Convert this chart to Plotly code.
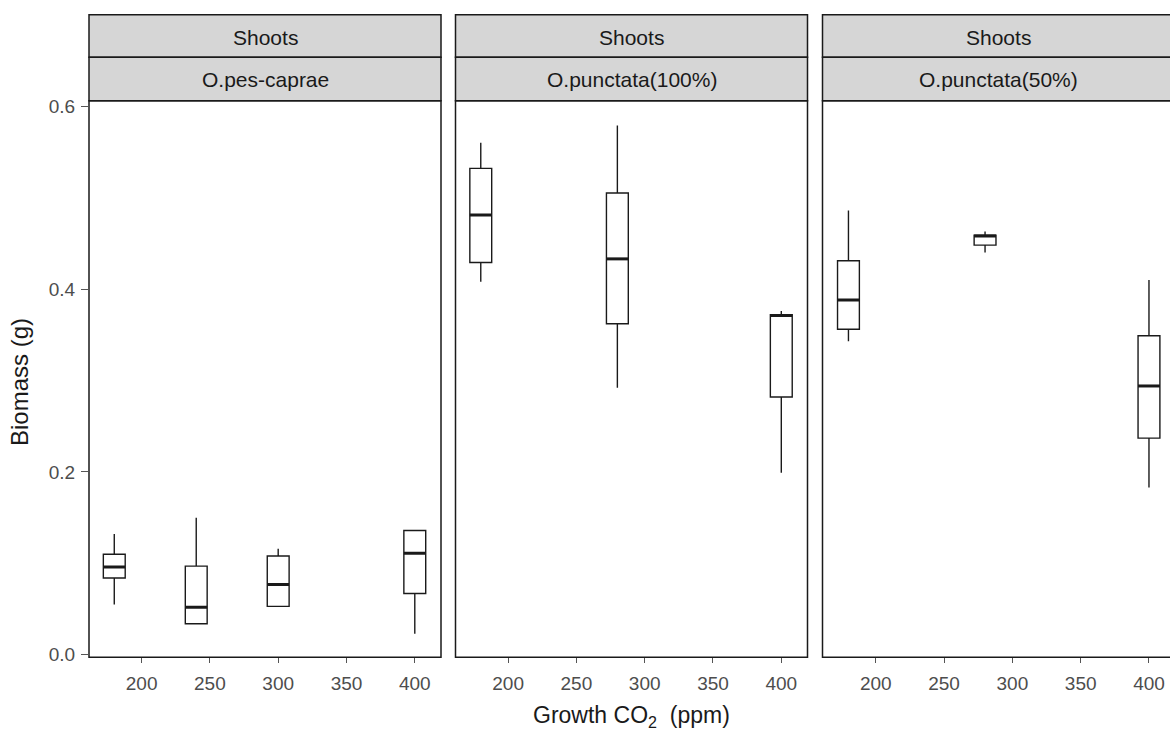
import plotly.graph_objects as go

# ---- data ----
panels = ["O.pes-caprae", "O.punctata(100%)", "O.punctata(50%)"]
tissue = "Shoots"

x_pes = [180, 240, 300, 400]
lo_pes = [0.055, 0.034, 0.053, 0.023]
q1_pes = [0.084, 0.034, 0.053, 0.067]
med_pes = [0.096, 0.052, 0.077, 0.111]
q3_pes = [0.110, 0.097, 0.108, 0.136]
hi_pes = [0.132, 0.150, 0.116, 0.136]

x_p100 = [180, 280, 400]
lo_p100 = [0.408, 0.292, 0.199]
q1_p100 = [0.429, 0.362, 0.282]
med_p100 = [0.481, 0.433, 0.371]
q3_p100 = [0.532, 0.505, 0.372]
hi_p100 = [0.560, 0.579, 0.376]

x_p50 = [180, 280, 400]
lo_p50 = [0.343, 0.440, 0.183]
q1_p50 = [0.356, 0.448, 0.237]
med_p50 = [0.388, 0.458, 0.294]
q3_p50 = [0.431, 0.459, 0.349]
hi_p50 = [0.486, 0.463, 0.410]

x_ticks = [200, 250, 300, 350, 400]
y_ticks = [0.0, 0.2, 0.4, 0.6]
y_ticklabels = ["0.0", "0.2", "0.4", "0.6"]

series = [
    (x_pes, lo_pes, q1_pes, med_pes, q3_pes, hi_pes),
    (x_p100, lo_p100, q1_p100, med_p100, q3_p100, hi_p100),
    (x_p50, lo_p50, q1_p50, med_p50, q3_p50, hi_p50),
]

# ---- layout geometry ----
W, H = 1170, 732
px = lambda v: v / W
cy = lambda v: (v - 3.73) / 0.983          # compensate observed vertical scaling
py = lambda v: (H - cy(v)) / H
domains = [(89, 441), (455.5, 807.5), (822.5, 1170)]
scale = 1.366  # px per x unit
top_px, bot_px = 99.5, 656.5
yrange = [-0.0027, 0.606]
BOX_W = 16

fig = go.Figure()
font_family = "Liberation Sans, Arial, sans-serif"

for i, (xs, lo, q1, med, q3, hi) in enumerate(series):
    xa = "x" if i == 0 else f"x{i+1}"
    ya = "y" if i == 0 else f"y{i+1}"
    fig.add_trace(go.Box(
        x=xs, q1=q1, median=med, q3=q3, lowerfence=lo, upperfence=hi,
        width=BOX_W, whiskerwidth=0, fillcolor="white",
        line=dict(color="#1a1a1a", width=1.4), boxpoints=False,
        showlegend=False, xaxis=xa, yaxis=ya, hoverinfo="skip",
    ))
    mx, my = [], []
    for xv, mv in zip(xs, med):
        mx += [xv - BOX_W / 2, xv + BOX_W / 2, None]
        my += [mv, mv, None]
    fig.add_trace(go.Scatter(
        x=mx, y=my, mode="lines", line=dict(color="#1a1a1a", width=3),
        showlegend=False, xaxis=xa, yaxis=ya, hoverinfo="skip",
    ))

shapes = []
annotations = []
for i, (l, r) in enumerate(domains):
    d = [px(l), min(px(r), 1.0)]
    width_px = r - l
    start = 161.5 if i < 2 else 161.0
    xr = [start, start + width_px / scale]
    key = "" if i == 0 else str(i + 1)
    fig.layout["xaxis" + key] = dict(
        domain=d, range=xr, tickmode="array", tickvals=x_ticks,
        ticks="outside", ticklen=5, tickwidth=1, tickcolor="#555555",
        showgrid=False, zeroline=False, showline=False,
        tickfont=dict(family=font_family, size=19, color="#4d4d4d"),
        anchor="y" + key, ticklabelstandoff=4,
    )
    fig.layout["yaxis" + key] = dict(
        domain=[py(bot_px), py(top_px)], range=yrange,
        tickmode="array", tickvals=y_ticks, ticktext=y_ticklabels,
        ticks="outside" if i == 0 else "", ticklen=7, tickwidth=1,
        tickcolor="#555555", showticklabels=(i == 0),
        showgrid=False, zeroline=False, showline=False,
        tickfont=dict(family=font_family, size=19, color="#4d4d4d"),
        anchor="x" + key, ticklabelstandoff=2,
    )
    rr = r + 4 if i == 2 else r
    # panel border
    shapes.append(dict(type="rect", xref="paper", yref="paper",
                       x0=px(l), x1=px(rr), y0=py(bot_px), y1=py(top_px),
                       line=dict(color="#1a1a1a", width=1.5), fillcolor="rgba(0,0,0,0)"))
    # strips
    for (t, b) in [(13.5, 56), (56, 99.5)]:
        shapes.append(dict(type="rect", xref="paper", yref="paper",
                           x0=px(l), x1=px(rr), y0=py(b), y1=py(t),
                           line=dict(color="#1a1a1a", width=1.5), fillcolor="#d6d6d6",
                           layer="below"))
    cx = px((l + rr) / 2)
    annotations.append(dict(text=tissue, x=cx, y=py(36), xref="paper", yref="paper",
                            xanchor="center", yanchor="middle",
                            showarrow=False, font=dict(family=font_family, size=21, color="#1a1a1a")))
    annotations.append(dict(text=panels[i], x=cx, y=py(78), xref="paper", yref="paper",
                            xanchor="center", yanchor="middle",
                            showarrow=False, font=dict(family=font_family, size=21, color="#1a1a1a")))

annotations.append(dict(text="Growth CO<sub>2</sub>&nbsp; (ppm)", x=px(631), y=py(716),
                        xref="paper", yref="paper", xanchor="center", yanchor="middle",
                        showarrow=False,
                        font=dict(family=font_family, size=23, color="#1a1a1a")))
annotations.append(dict(text="Biomass (g)", x=px(20), y=py(381), textangle=-90,
                        xref="paper", yref="paper", xanchor="center", yanchor="middle",
                        showarrow=False,
                        font=dict(family=font_family, size=24, color="#1a1a1a")))

fig.update_layout(
    width=W, height=H, margin=dict(l=0, r=0, t=0, b=0),
    paper_bgcolor="white", plot_bgcolor="white",
    shapes=shapes, annotations=annotations, showlegend=False,
)

fig.write_html("out.html")
